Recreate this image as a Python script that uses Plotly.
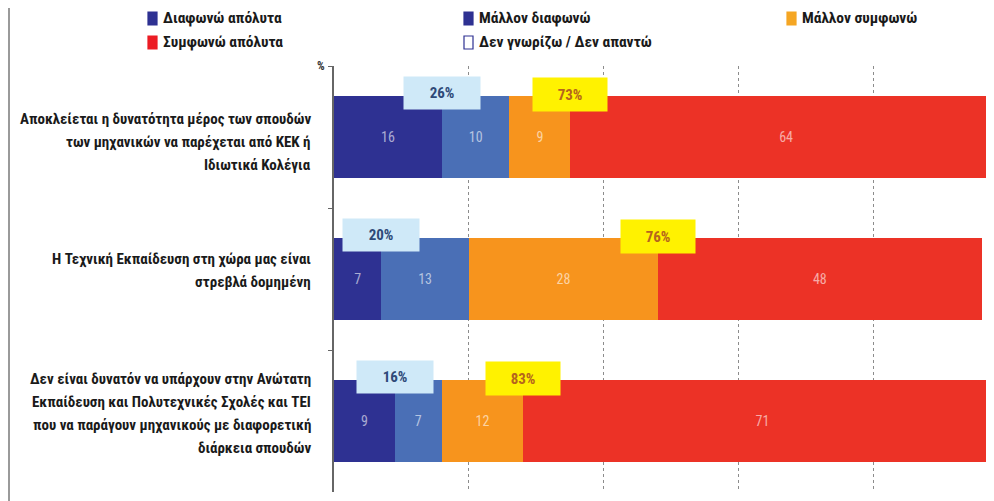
import plotly.graph_objects as go

# ---------------- data ----------------
categories = [
    "Αποκλείεται η δυνατότητα μέρος των σπουδών<br>των μηχανικών να παρέχεται από ΚΕΚ ή<br>Ιδιωτικά Κολέγια",
    "Η Τεχνική Εκπαίδευση στη χώρα μας είναι<br>στρεβλά δομημένη",
    "Δεν είναι δυνατόν να υπάρχουν στην Ανώτατη<br>Εκπαίδευση και Πολυτεχνικές Σχολές και ΤΕΙ<br>που να παράγουν μηχανικούς με διαφορετική<br>διάρκεια σπουδών",
]
series_names = ["Διαφωνώ απόλυτα", "Μάλλον διαφωνώ", "Μάλλον συμφωνώ", "Συμφωνώ απόλυτα"]
disagree_abs = [16, 7, 9]
disagree_rather = [10, 13, 7]
agree_rather = [9, 28, 12]
agree_abs = [64, 48, 71]
series_values = [disagree_abs, disagree_rather, agree_rather, agree_abs]

disagree_total_labels = ["26%", "20%", "16%"]
agree_total_labels = ["73%", "76%", "83%"]

legend_labels = ["Διαφωνώ απόλυτα", "Μάλλον διαφωνώ", "Μάλλον συμφωνώ",
                 "Συμφωνώ απόλυτα", "Δεν γνωρίζω / Δεν απαντώ"]

# ---------------- style ----------------
bar_colors = ["#2e3192", "#4a6fb6", "#f7941d", "#ec3226"]
legend_fill = ["#2e3192", "#2e3192", "#f5a623", "#ec1c24", "white"]
legend_line = ["#2e3192", "#2e3192", "#f5a623", "#ec1c24", "#2e3192"]
legend_px = [(148, 18), (464, 18), (787, 18), (148, 42), (464, 42)]  # page px
label_row_offset = [5, -9, -8]   # px offset of label block centre from band centre
LINE_H = 23

FONT = "Liberation Sans Narrow, Roboto Condensed, Roboto, sans-serif"
OFF = 8                      # page body margin
W, H = 994 - OFF, 501 - OFF
L, R, T, B = 334 - OFF, 0, 66 - OFF, 9
PW, PH = W - L - R, H - T - B
XMAX = 97.8
BARW = 0.58


def px_to_paper(px, py):
    fx, fy = px - OFF, py - OFF
    return (fx - L) / PW, (H - B - fy) / PH


fig = go.Figure()
for name, vals, col in zip(series_names, series_values, bar_colors):
    fig.add_trace(go.Bar(
        y=categories, x=vals, orientation="h", name=name,
        marker=dict(color=col, line=dict(width=0)),
        width=BARW,
        text=[str(v) for v in vals], textposition="inside",
        insidetextanchor="middle", textangle=0, constraintext="none",
        textfont=dict(color="rgba(255,255,255,0.6)", size=14, family=FONT),
        showlegend=False, hoverinfo="skip",
    ))

annotations = []
shapes = []
for i in range(len(categories)):
    annotations.append(dict(
        x=disagree_abs[i], y=i - BARW / 2, xref="x", yref="y",
        text="<b>%s</b>" % disagree_total_labels[i], showarrow=False,
        bgcolor="#cfe9f8", width=74, height=30, yshift=3,
        font=dict(size=15, color="#2e4a78", family=FONT),
        xanchor="center", yanchor="middle",
    ))
    start_red = disagree_abs[i] + disagree_rather[i] + agree_rather[i]
    annotations.append(dict(
        x=start_red, y=i - BARW / 2, xref="x", yref="y",
        text="<b>%s</b>" % agree_total_labels[i], showarrow=False,
        bgcolor="#fff200", width=72, height=31, yshift=1,
        font=dict(size=15, color="#b5651d", family=FONT),
        xanchor="center", yanchor="middle",
    ))
    # category label, line by line
    lines = categories[i].split("<br>")
    n = len(lines)
    for k, ln in enumerate(lines):
        dy = label_row_offset[i] + (k - (n - 1) / 2) * LINE_H
        annotations.append(dict(
            x=0, y=i, xref="paper", yref="y", text="<b>%s</b>" % ln,
            showarrow=False, xanchor="right", yanchor="middle",
            xshift=-21, yshift=-dy,
            font=dict(size=15, color="#1a1a1a", family=FONT),
        ))

# manual legend
for lab, fc, lc, (lx, ly) in zip(legend_labels, legend_fill, legend_line, legend_px):
    x0, y0 = px_to_paper(lx, ly - 6)
    x1, y1 = px_to_paper(lx + 9, ly + 7)
    shapes.append(dict(type="rect", xref="paper", yref="paper",
                       x0=x0, x1=x1, y0=y1, y1=y0,
                       fillcolor=fc, line=dict(color=lc, width=1.2)))
    tx, ty = px_to_paper(lx + 13, ly)
    annotations.append(dict(
        x=tx, y=ty, xref="paper", yref="paper", text="<b>%s</b>" % lab,
        showarrow=False, xanchor="left", yanchor="middle",
        font=dict(size=15.5, color="#1a1a1a", family=FONT),
    ))

# "%" marker at the top of the axis
mx, my = px_to_paper(327, 66)
annotations.append(dict(x=mx, y=my, xref="paper", yref="paper", text="<b>%</b>",
                        showarrow=False, xanchor="right", yanchor="middle",
                        font=dict(size=12, color="#333", family=FONT)))

# page frame line at left
fx0, fy0 = px_to_paper(OFF + 1, OFF)
fx1, fy1 = px_to_paper(OFF + 1, 501)
shapes.append(dict(type="line", xref="paper", yref="paper", x0=fx0, x1=fx1,
                   y0=fy0, y1=fy1, line=dict(color="#9a9a9a", width=2)))

fig.update_layout(
    width=W, height=H,
    margin=dict(l=L, r=R, t=T, b=B),
    barmode="stack",
    paper_bgcolor="white", plot_bgcolor="white",
    annotations=annotations, shapes=shapes,
    xaxis=dict(range=[0, XMAX], showticklabels=False, ticks="",
               showgrid=True, gridcolor="#8c8c8c", griddash="dot", gridwidth=1,
               tickvals=[20, 40, 60, 80], zeroline=False, showline=False),
    yaxis=dict(type="category", autorange="reversed",
               showline=True, linecolor="#666", linewidth=1.5,
               ticks="outside", tickson="boundaries", ticklen=4, tickcolor="#666",
               showticklabels=False, showgrid=False, zeroline=False),
    font=dict(family=FONT),
)

fig.write_html("out.html")
